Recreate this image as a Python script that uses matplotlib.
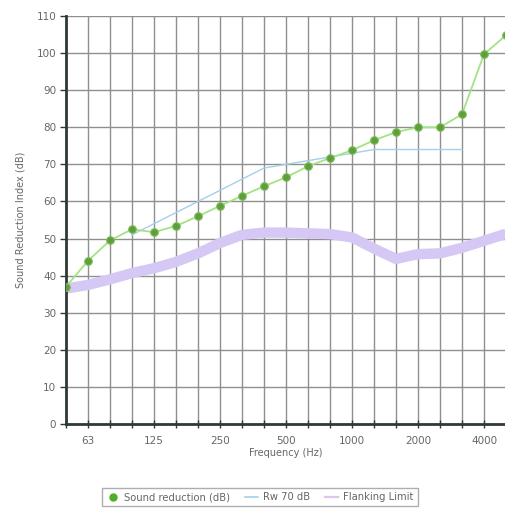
import numpy as np
import matplotlib
matplotlib.use('Agg')
import matplotlib.pyplot as plt
from matplotlib.lines import Line2D

# third-octave bands, 50 Hz .. 5000 Hz
bands = ['50', '63', '80', '100', '125', '160', '200', '250', '315', '400', '500',
         '630', '800', '1000', '1250', '1600', '2000', '2500', '3150', '4000', '5000']
tick_labels = ['63', '125', '250', '500', '1000', '2000', '4000']

sound_reduction = [37, 44, 49.5, 52.5, 51.7, 53.4, 56, 58.8, 61.5, 64.1, 66.5,
                   69.5, 71.7, 73.8, 76.5, 78.7, 80, 80, 83.5, 99.7, 104.8]
rw_bands = ['100', '125', '160', '200', '250', '315', '400', '500', '630', '800',
            '1000', '1250', '1600', '2000', '2500', '3150']
rw_curve = [51, 54, 57, 60, 63, 66, 69, 70, 71, 72, 73, 74, 74, 74, 74, 74]
flanking = [36.5, 37.5, 39, 40.7, 42, 43.7, 46, 48.8, 51, 51.6, 51.6,
            51.4, 51.2, 50.3, 47.3, 44.5, 45.8, 46, 47.5, 49.4, 51.3]

STYLE = {
    'green_line': '#a3e384',
    'green_dot': '#5e9e3c',
    'blue': '#a6cfea',
    'lavender': '#d6c8f5',
    'grid': '#8f8f8f',
    'spine': '#2f3a36',
    'text': '#666666',
}
s = STYLE

x = np.arange(len(bands))
x_rw = [bands.index(b) for b in rw_bands]

fig = plt.figure(figsize=(5.06, 5.11), dpi=100)
ax = fig.add_axes([66 / 506, 1 - 424 / 511, 440 / 506, 408 / 511])

ax.plot(x, flanking, color=s['lavender'], linewidth=7.5,
        solid_capstyle='butt', zorder=2)
ax.plot(x_rw, rw_curve, color=s['blue'], linewidth=1.0, zorder=3)
ax.plot(x, sound_reduction, color=s['green_line'], linewidth=1.3, zorder=4)
ax.plot(x, sound_reduction, linestyle='none', marker='o', markersize=5.5,
        markerfacecolor=s['green_dot'], markeredgecolor='#7fbf5a',
        markeredgewidth=0.8, zorder=5)

ax.set_xlim(0, 20)
ax.set_ylim(0, 110)
ax.set_yticks(np.arange(0, 111, 10))
ax.set_xticks([bands.index(t) for t in tick_labels])
ax.set_xticklabels(tick_labels)
ax.set_xticks(x, minor=True)

ax.grid(True, which='both', axis='x', color=s['grid'], linewidth=1.0)
ax.grid(True, which='major', axis='y', color=s['grid'], linewidth=1.0)
ax.set_axisbelow(True)

for side in ['top', 'right']:
    ax.spines[side].set_visible(False)
for side in ['left', 'bottom']:
    ax.spines[side].set_color(s['spine'])
    ax.spines[side].set_linewidth(2)

ax.tick_params(axis='x', which='both', direction='inout', length=6, width=1,
               color=s['spine'], labelsize=7.5, labelcolor=s['text'], pad=6)
ax.tick_params(axis='y', direction='out', length=4, width=1,
               color=s['spine'], labelsize=7.5, labelcolor=s['text'], pad=3)

ax.set_xlabel('Frequency (Hz)', fontsize=7, color=s['text'], labelpad=1)
ax.set_ylabel('Sound Reduction Index (dB)', fontsize=7, color=s['text'], labelpad=8)

handles = [
    Line2D([], [], linestyle='none', marker='o', markersize=5,
           markerfacecolor='#4caf2a', markeredgecolor='#4caf2a'),
    Line2D([], [], color=s['blue'], linewidth=1.2),
    Line2D([], [], color='#e2c4ea', linewidth=1.6),
]
labels = ['Sound reduction (dB)', 'Rw 70 dB', 'Flanking Limit']
fig.legend(handles, labels,
           loc='center', bbox_to_anchor=(260 / 506, 1 - 497 / 511), ncol=3,
           fontsize=7.2, frameon=True, fancybox=False, edgecolor='#9a9a9a',
           handlelength=1.3, handletextpad=0.5, columnspacing=1.5,
           borderpad=0.4, labelcolor=s['text'])

fig.savefig('out.png', dpi=100)
